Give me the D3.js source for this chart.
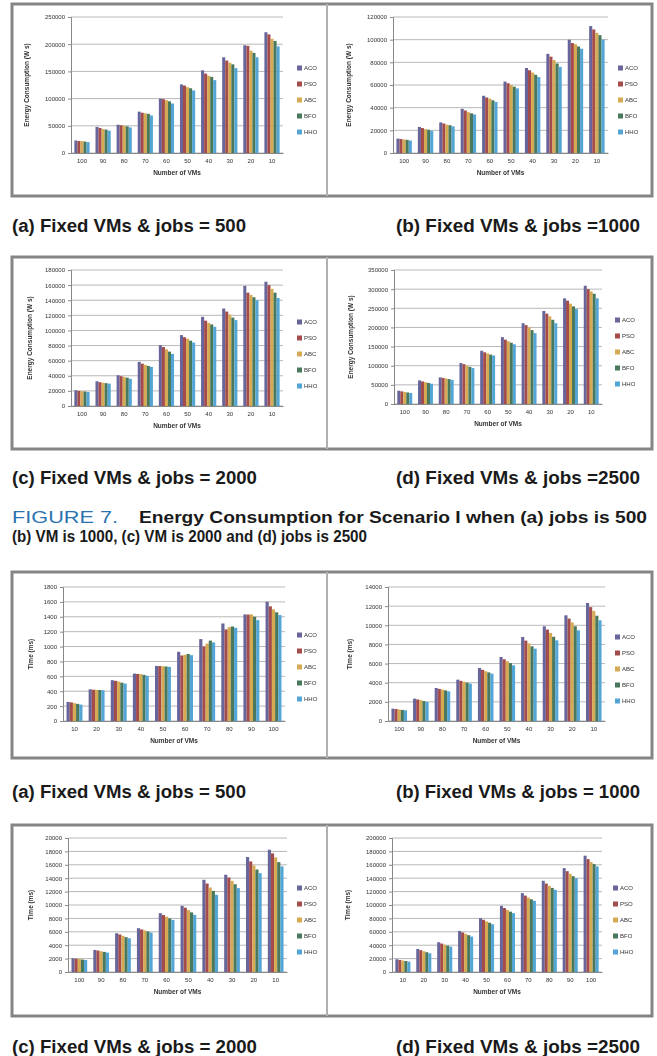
<!DOCTYPE html>
<html>
<head>
<meta charset="utf-8">
<script src="https://cdn.jsdelivr.net/npm/d3@7"></script>
<style>
  html, body { margin: 0; padding: 0; background: #ffffff; }
  svg { display: block; }
</style>
</head>
<body>
<svg id="fig" width="657" height="1056"></svg>
<script>
// ---- data -------------------------------------------------------------
const seriesNames = ["ACO", "PSO", "ABC", "BFO", "HHO"];
const seriesColors = ["#67659a", "#a44c4b", "#d6a952", "#4a785c", "#52a5d6"];

const vmDesc = ["100", "90", "80", "70", "60", "50", "40", "30", "20", "10"];
const vmAsc = ["10", "20", "30", "40", "50", "60", "70", "80", "90", "100"];

// Energy consumption (W s); one row per series, in seriesNames order
const energyJobs500 = [
  [23000, 48000, 52000, 76000, 100000, 126000, 152000, 176000, 198000, 222000],
  [22000, 46000, 51000, 74000, 99000, 124000, 146000, 170000, 197000, 218000],
  [22000, 44000, 50000, 73000, 97000, 121000, 142000, 166000, 188000, 210000],
  [21000, 43000, 49000, 72000, 95000, 119000, 140000, 163000, 184000, 206000],
  [20000, 41000, 47000, 69000, 91000, 115000, 134000, 156000, 176000, 196000]
];
const energyJobs1000 = [
  [12700, 23000, 27000, 39000, 50500, 63000, 75000, 87500, 100000, 112000],
  [12300, 22000, 26000, 37500, 49000, 61500, 73000, 85000, 97000, 109000],
  [12000, 21000, 25000, 36000, 48000, 60000, 71000, 82000, 96000, 106000],
  [11600, 20500, 24500, 35000, 46500, 58500, 69000, 79000, 94000, 104000],
  [11000, 19500, 23500, 34000, 45000, 57000, 67000, 76000, 92000, 100000]
];
const energyJobs2000 = [
  [20800, 32700, 40700, 58400, 80500, 93800, 118000, 129000, 159000, 164500],
  [20000, 31500, 39500, 56000, 78000, 91000, 113000, 125000, 150000, 160000],
  [19600, 30800, 38500, 54500, 75000, 89000, 110000, 121000, 147000, 155000],
  [19200, 30200, 37500, 53000, 72000, 86500, 108000, 117000, 144000, 150000],
  [18600, 29600, 36000, 51700, 69000, 84000, 104800, 113700, 140000, 143000]
];
const energyJobs2500 = [
  [34700, 61700, 69500, 107000, 139000, 174600, 211000, 243000, 276000, 309000],
  [33000, 59000, 68000, 104000, 135000, 168000, 206000, 236000, 270000, 300000],
  [31500, 57000, 66500, 100000, 132000, 164000, 200000, 229000, 262000, 294000],
  [30000, 55000, 65000, 97000, 129000, 160000, 193000, 220000, 255000, 288000],
  [28700, 53000, 63000, 93800, 126800, 156000, 185000, 211000, 248000, 276000]
];

// Execution time (ms)
const timeJobs500 = [
  [256, 426, 548, 637, 740, 929, 1100, 1310, 1432, 1602],
  [250, 420, 540, 632, 738, 880, 1000, 1230, 1430, 1540],
  [240, 418, 530, 630, 736, 890, 1040, 1260, 1432, 1500],
  [230, 416, 515, 620, 732, 900, 1080, 1270, 1400, 1460],
  [220, 413, 503, 606, 727, 884, 1055, 1252, 1355, 1423]
];
const timeJobs1000 = [
  [1289, 2334, 3448, 4319, 5538, 6687, 8777, 9892, 11041, 12330],
  [1250, 2250, 3350, 4200, 5350, 6450, 8400, 9550, 10700, 11900],
  [1200, 2180, 3280, 4100, 5200, 6250, 8100, 9200, 10300, 11500],
  [1160, 2080, 3200, 4000, 5080, 6050, 7800, 8800, 9900, 11000],
  [1115, 1985, 3100, 3901, 4946, 5817, 7558, 8429, 9474, 10519]
];
const timeJobs2000 = [
  [2045, 3292, 5786, 6534, 8778, 9875, 13766, 14514, 17157, 18254],
  [1990, 3200, 5600, 6350, 8500, 9600, 13200, 14100, 16500, 17700],
  [1930, 3100, 5400, 6200, 8250, 9250, 12600, 13600, 15900, 17100],
  [1860, 3000, 5200, 6050, 8000, 8900, 12100, 13100, 15300, 16400],
  [1795, 2893, 5037, 5885, 7781, 8529, 11521, 12519, 14763, 15761]
];
const timeJobs2500 = [
  [19000, 34400, 44400, 61300, 80300, 98800, 117700, 136200, 155000, 173600],
  [18000, 32600, 42500, 59000, 78000, 95500, 114000, 132000, 150500, 168500],
  [17200, 31000, 40600, 57000, 75500, 92500, 111000, 128500, 146500, 164000],
  [16400, 29500, 39300, 55000, 73500, 90000, 108500, 125500, 143000, 161000],
  [15500, 27900, 37900, 52900, 71300, 87800, 106200, 122700, 140000, 157600]
];

// Axis ranges (max, step)
const energyAxes = [[250000, 50000], [120000, 20000], [180000, 20000], [350000, 50000]];
const timeAxes = [[1800, 200], [14000, 2000], [20000, 2000], [200000, 20000]];

const subCaptionsEnergy = ["(a) Fixed VMs & jobs = 500", "(b) Fixed VMs & jobs =1000",
                           "(c) Fixed VMs & jobs = 2000", "(d) Fixed VMs & jobs =2500"];
const subCaptionsTime = ["(a) Fixed VMs & jobs = 500", "(b) Fixed VMs & jobs = 1000",
                         "(c) Fixed VMs & jobs = 2000", "(d) Fixed VMs & jobs =2500"];

// ---- layout -----------------------------------------------------------
const svg = d3.select("#fig");
const defs = svg.append("defs");
defs.append("filter").attr("id", "soft")
  .attr("x", "-5%").attr("y", "-5%").attr("width", "110%").attr("height", "110%")
  .append("feGaussianBlur").attr("stdDeviation", 0.7);

const frames = [
  { x0: 12, x1: 652, mid: 327, y0: 4, y1: 196 },
  { x0: 12, x1: 652, mid: 327, y0: 257, y1: 449 },
  { x0: 12, x1: 652, mid: 327, y0: 572, y1: 758 },
  { x0: 12, x1: 652, mid: 327, y0: 825, y1: 1016 }
];

const panels = [
  { data: energyJobs500, axis: energyAxes[0], cats: vmDesc, yTitle: "Energy Consumption (W s)",
    px: [71, 283], py: [17, 153], legend: [297, 68], yTitleX: 29 },
  { data: energyJobs1000, axis: energyAxes[1], cats: vmDesc, yTitle: "Energy Consumption (W s)",
    px: [393, 608], py: [17, 153], legend: [618, 68], yTitleX: 351 },
  { data: energyJobs2000, axis: energyAxes[2], cats: vmDesc, yTitle: "Energy Consumption (W s)",
    px: [71, 283], py: [270, 406], legend: [297, 322], yTitleX: 32 },
  { data: energyJobs2500, axis: energyAxes[3], cats: vmDesc, yTitle: "Energy Consumption (W s)",
    px: [394, 602], py: [270, 404], legend: [615, 320], yTitleX: 353 },
  { data: timeJobs500, axis: timeAxes[0], cats: vmAsc, yTitle: "Time (ms)",
    px: [63, 285], py: [587, 721], legend: [297, 635], yTitleX: 33 },
  { data: timeJobs1000, axis: timeAxes[1], cats: vmDesc, yTitle: "Time (ms)",
    px: [388, 605], py: [587, 721], legend: [615, 637], yTitleX: 352 },
  { data: timeJobs2000, axis: timeAxes[2], cats: vmDesc, yTitle: "Time (ms)",
    px: [68, 287], py: [838, 972], legend: [297, 888], yTitleX: 33 },
  { data: timeJobs2500, axis: timeAxes[3], cats: vmAsc, yTitle: "Time (ms)",
    px: [392, 602], py: [838, 972], legend: [613, 888], yTitleX: 350 }
];

const smallFont = "Liberation Sans, Arial, sans-serif";

// ---- frames -----------------------------------------------------------
frames.forEach(f => {
  const g = svg.append("g").attr("filter", "url(#soft)");
  g.append("rect").attr("x", f.x0).attr("y", f.y0)
    .attr("width", f.x1 - f.x0).attr("height", f.y1 - f.y0)
    .attr("fill", "#ffffff").attr("stroke", "#858585").attr("stroke-width", 3);
  g.append("line").attr("x1", f.mid).attr("x2", f.mid).attr("y1", f.y0).attr("y2", f.y1)
    .attr("stroke", "#b0b0b0").attr("stroke-width", 2);
});

// ---- bar charts -------------------------------------------------------
panels.forEach(p => {
  const g = svg.append("g").attr("filter", "url(#soft)");
  const [yMax, yStep] = p.axis;

  const x = d3.scaleBand().domain(p.cats).range(p.px).paddingInner(0.28).paddingOuter(0.16);
  const xs = d3.scaleBand().domain(seriesNames).range([0, x.bandwidth()]).padding(0);
  const y = d3.scaleLinear().domain([0, yMax]).range([p.py[1], p.py[0]]);
  const ticks = d3.range(0, yMax + yStep / 2, yStep);

  // gridlines
  g.append("g").selectAll("line").data(ticks).join("line")
    .attr("x1", p.px[0]).attr("x2", p.px[1])
    .attr("y1", d => y(d)).attr("y2", d => y(d))
    .attr("stroke", "#b8b8b8").attr("stroke-width", 1);

  // y axis
  const yAxis = d3.axisLeft(y).tickValues(ticks).tickSize(3).tickPadding(3).tickFormat(d3.format("d"));
  const ya = g.append("g").attr("transform", `translate(${p.px[0]},0)`).call(yAxis);
  ya.select(".domain").attr("stroke", "#888");
  ya.selectAll(".tick line").attr("stroke", "#888");
  ya.selectAll("text").attr("font-family", smallFont).attr("font-size", 6).attr("fill", "#333");

  // x axis
  const xAxis = d3.axisBottom(x).tickSize(0).tickPadding(6);
  const xa = g.append("g").attr("transform", `translate(0,${p.py[1]})`).call(xAxis);
  xa.select(".domain").attr("stroke", "#888");
  xa.selectAll("text").attr("font-family", smallFont).attr("font-size", 6).attr("fill", "#333");

  // bars
  const groups = g.append("g").selectAll("g").data(p.cats).join("g")
    .attr("transform", c => `translate(${x(c)},0)`);
  groups.selectAll("rect")
    .data((c, i) => seriesNames.map((s, k) => ({ s, k, v: p.data[k][i] })))
    .join("rect")
    .attr("x", d => xs(d.s))
    .attr("width", xs.bandwidth())
    .attr("y", d => y(d.v))
    .attr("height", d => y(0) - y(d.v))
    .attr("fill", d => seriesColors[d.k]);

  // axis titles
  g.append("text")
    .attr("x", (p.px[0] + p.px[1]) / 2).attr("y", p.py[1] + 22)
    .attr("text-anchor", "middle").attr("font-family", smallFont)
    .attr("font-size", 6.5).attr("font-weight", "bold").attr("fill", "#333")
    .text("Number of VMs");
  g.append("text")
    .attr("transform", `translate(${p.yTitleX},${(p.py[0] + p.py[1]) / 2}) rotate(-90)`)
    .attr("text-anchor", "middle").attr("font-family", smallFont)
    .attr("font-size", 6.5).attr("font-weight", "bold").attr("fill", "#333")
    .text(p.yTitle);

  // legend
  const lg = g.append("g").attr("transform", `translate(${p.legend[0]},${p.legend[1]})`);
  const items = lg.selectAll("g").data(seriesNames).join("g")
    .attr("transform", (d, i) => `translate(0,${i * 16})`);
  items.append("rect").attr("x", 0).attr("y", -2.5).attr("width", 5).attr("height", 5)
    .attr("fill", (d, i) => seriesColors[i]);
  items.append("text").attr("x", 7).attr("y", 2.2)
    .attr("font-family", smallFont).attr("font-size", 6).attr("fill", "#333")
    .text(d => d);
});

// ---- captions ---------------------------------------------------------
const capFont = "'Liberation Sans Narrow', 'Arial Narrow', 'Liberation Sans', Arial, sans-serif";
function caption(x, y, txt, len) {
  svg.append("text").attr("x", x).attr("y", y)
    .attr("font-family", capFont).attr("font-weight", "bold").attr("font-size", 18)
    .attr("fill", "#1a1a1a")
    .attr("textLength", len).attr("lengthAdjust", "spacingAndGlyphs")
    .text(txt);
}
caption(12, 232, subCaptionsEnergy[0], 234);
caption(396, 232, subCaptionsEnergy[1], 244);
caption(12, 484, subCaptionsEnergy[2], 245);
caption(396, 484, subCaptionsEnergy[3], 244);
caption(12, 798, subCaptionsTime[0], 234);
caption(396, 798, subCaptionsTime[1], 244);
caption(12, 1053, subCaptionsTime[2], 245);
caption(396, 1053, subCaptionsTime[3], 244);

// figure caption (two lines)
const fc = svg.append("text").attr("x", 12).attr("y", 523)
  .attr("font-family", capFont).attr("font-size", 16);
fc.append("tspan").attr("fill", "#2b73b0").attr("font-size", 17)
  .attr("textLength", 106).attr("lengthAdjust", "spacingAndGlyphs").text("FIGURE 7.");
fc.append("tspan").attr("x", 139).attr("fill", "#1a1a1a").attr("font-weight", "bold")
  .attr("textLength", 508).attr("lengthAdjust", "spacingAndGlyphs")
  .text("Energy Consumption for Scenario I when (a) jobs is 500");
svg.append("text").attr("x", 12).attr("y", 542)
  .attr("font-family", capFont).attr("font-size", 16).attr("font-weight", "bold")
  .attr("fill", "#1a1a1a")
  .attr("textLength", 355).attr("lengthAdjust", "spacingAndGlyphs")
  .text("(b) VM is 1000, (c) VM is 2000 and (d) jobs is 2500");
</script>
</body>
</html>
